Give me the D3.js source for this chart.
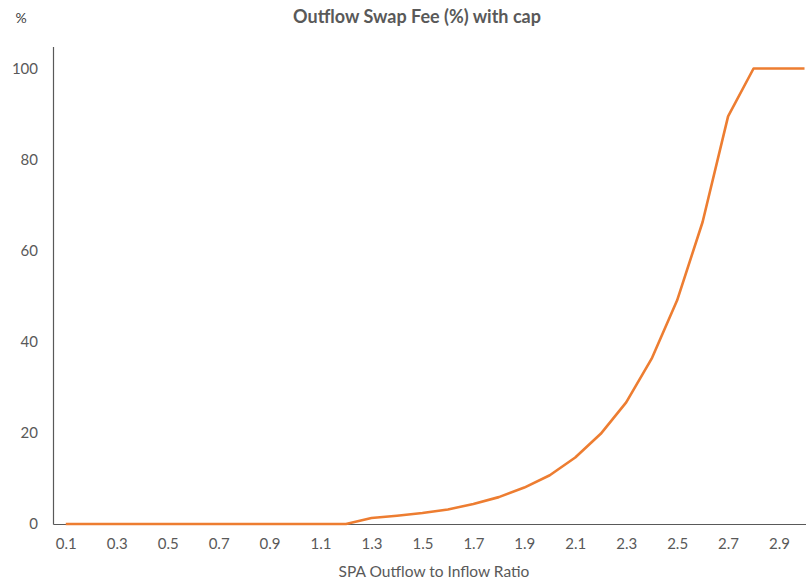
<!DOCTYPE html>
<html><head><meta charset="utf-8">
<script src="https://cdn.jsdelivr.net/npm/d3@7"></script>
<style>
body{margin:0;background:#fff;}
text{font-family:Lato,"Open Sans",sans-serif;}
</style></head>
<body><svg id="c" width="806" height="583"></svg>
<script>
const categories = ["0.1","0.2","0.3","0.4","0.5","0.6","0.7","0.8","0.9","1.0","1.1","1.2","1.3","1.4","1.5","1.6","1.7","1.8","1.9","2.0","2.1","2.2","2.3","2.4","2.5","2.6","2.7","2.8","2.9","3.0"];
const feeValues = [0,0,0,0,0,0,0,0,0,0,0,0,1.3,1.8,2.4,3.2,4.4,5.9,8.0,10.7,14.6,19.8,26.7,36.3,49.1,66.3,89.5,100,100,100];
const xTickLabels = ["0.1","0.3","0.5","0.7","0.9","1.1","1.3","1.5","1.7","1.9","2.1","2.3","2.5","2.7","2.9"];
const yTicks = [0,20,40,60,80,100];

const svg = d3.select("#c");
const axisColor = "#595959", textColor = "#595959";
const x = d3.scalePoint().domain(categories).range([65.8, 804.5]);
const y = d3.scaleLinear().domain([0,100]).range([524, 68.5]);

svg.append("line").attr("x1",53.5).attr("x2",806).attr("y1",524.5).attr("y2",524.5).attr("stroke",axisColor).attr("stroke-width",1.2);
svg.append("line").attr("x1",53.5).attr("x2",53.5).attr("y1",47).attr("y2",524.5).attr("stroke",axisColor).attr("stroke-width",1.2);

const xa = svg.append("g").attr("transform","translate(0,524)")
  .call(d3.axisBottom(x).tickValues(xTickLabels).tickSize(0).tickPadding(14));
xa.select(".domain").remove();
xa.selectAll("text").attr("fill",textColor).style("font-size","15px").style("font-family","Lato");

const ya = svg.append("g").attr("transform","translate(53,0)")
  .call(d3.axisLeft(y).tickValues(yTicks).tickSize(0).tickPadding(15));
ya.select(".domain").remove();
ya.selectAll("text").attr("fill",textColor).style("font-size","15px").style("font-family","Lato");

const line = d3.line().x((d,i)=>x(categories[i])).y(d=>y(d));
svg.append("path").datum(feeValues).attr("d",line).attr("fill","none")
  .attr("stroke","#ED7D31").attr("stroke-width",2.6).attr("stroke-linejoin","round");

svg.append("text").attr("x",417).attr("y",23).attr("text-anchor","middle")
  .attr("fill",textColor).style("font-size","18px").style("font-weight","bold").text("Outflow Swap Fee (%) with cap");
svg.append("text").attr("x",21).attr("y",23).attr("text-anchor","middle")
  .attr("fill","#404040").style("font-size","14px").text("%");
svg.append("text").attr("x",434).attr("y",577).attr("text-anchor","middle")
  .attr("fill",textColor).style("font-size","15.5px").text("SPA Outflow to Inflow Ratio");
</script></body></html>
